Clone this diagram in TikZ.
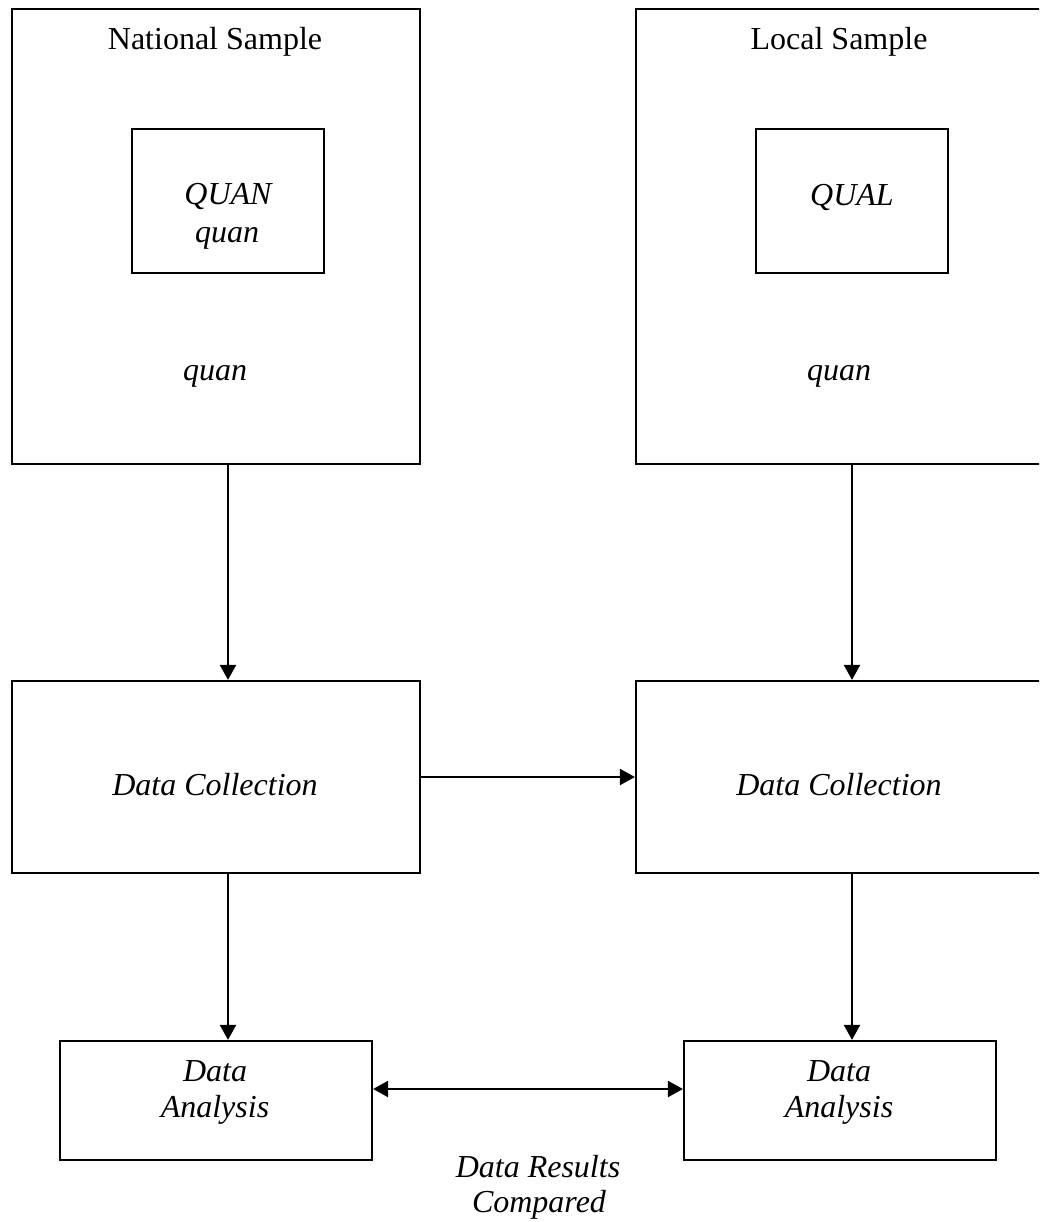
\documentclass[tikz,border=0pt]{standalone}
\usepackage{fontspec}
\setmainfont{Liberation Serif}
\usetikzlibrary{arrows.meta}
\begin{document}
\begin{tikzpicture}[x=1pt,y=-1pt,
  box/.style={draw=black, line width=2.2pt, rectangle, inner sep=0pt},
  txt/.style={inner sep=0pt, anchor=base, font=\fontsize{32}{37}\selectfont},
  itxt/.style={txt, font=\fontsize{32}{37}\selectfont\itshape},
  tip/.tip={Triangle[length=15pt,width=16pt]},
  arr/.style={line width=2.2pt, -tip},
  darr/.style={line width=2.2pt, tip-tip}]
\useasboundingbox (0,0) rectangle (1039,1222);
\clip (0,0) rectangle (1039,1222);
% outer sample boxes
\node[box, minimum width=408pt, minimum height=455pt] (nat) at (216,236.5) {};
\node[box, minimum width=408pt, minimum height=455pt] (loc) at (840,236.5) {};
% inner boxes
\node[box, minimum width=192pt, minimum height=144pt] (quanbox) at (228,201) {};
\node[box, minimum width=192pt, minimum height=144pt] (qualbox) at (852,201) {};
% data collection
\node[box, minimum width=408pt, minimum height=192pt] (dcl) at (216,777) {};
\node[box, minimum width=408pt, minimum height=192pt] (dcr) at (840,777) {};
% data analysis
\node[box, minimum width=312pt, minimum height=119pt] (dal) at (216,1100.5) {};
\node[box, minimum width=312pt, minimum height=119pt] (dar) at (840,1100.5) {};
% texts
\node[txt] (natlbl) at (215,50) {National Sample};
\node[txt] (loclbl) at (839,50) {Local Sample};
\node[itxt] (quanA) at (228,205) {QUAN};
\node[itxt] (quanB) at (227,243) {quan};
\node[itxt] (qual) at (852,206) {QUAL};
\node[itxt] (natquan) at (215,380) {quan};
\node[itxt] (locquan) at (839,380) {quan};
\node[itxt] (dcltxt) at (215,795) {Data Collection};
\node[itxt] (dcrtxt) at (839,795) {Data Collection};
\node[itxt] (dalA) at (215,1081) {Data};
\node[itxt] (dalB) at (215,1117) {Analysis};
\node[itxt] (darA) at (839,1081) {Data};
\node[itxt] (darB) at (839,1117) {Analysis};
\node[itxt] (resA) at (538,1177) {Data Results};
\node[itxt] (resB) at (539,1212) {Compared};
% connectors
\draw[arr] (nat.south -| quanbox.south) -- (dcl.north -| quanbox.south);
\draw[arr] (loc.south -| qualbox.south) -- (dcr.north -| qualbox.south);
\draw[arr] (dcl.east) -- (dcr.west);
\draw[arr] (dcl.south -| quanbox.south) -- (dal.north -| quanbox.south);
\draw[arr] (dcr.south -| qualbox.south) -- (dar.north -| qualbox.south);
\draw[darr] ([yshift=11.5pt]dal.east) -- ([yshift=11.5pt]dar.west);
\end{tikzpicture}
\end{document}
